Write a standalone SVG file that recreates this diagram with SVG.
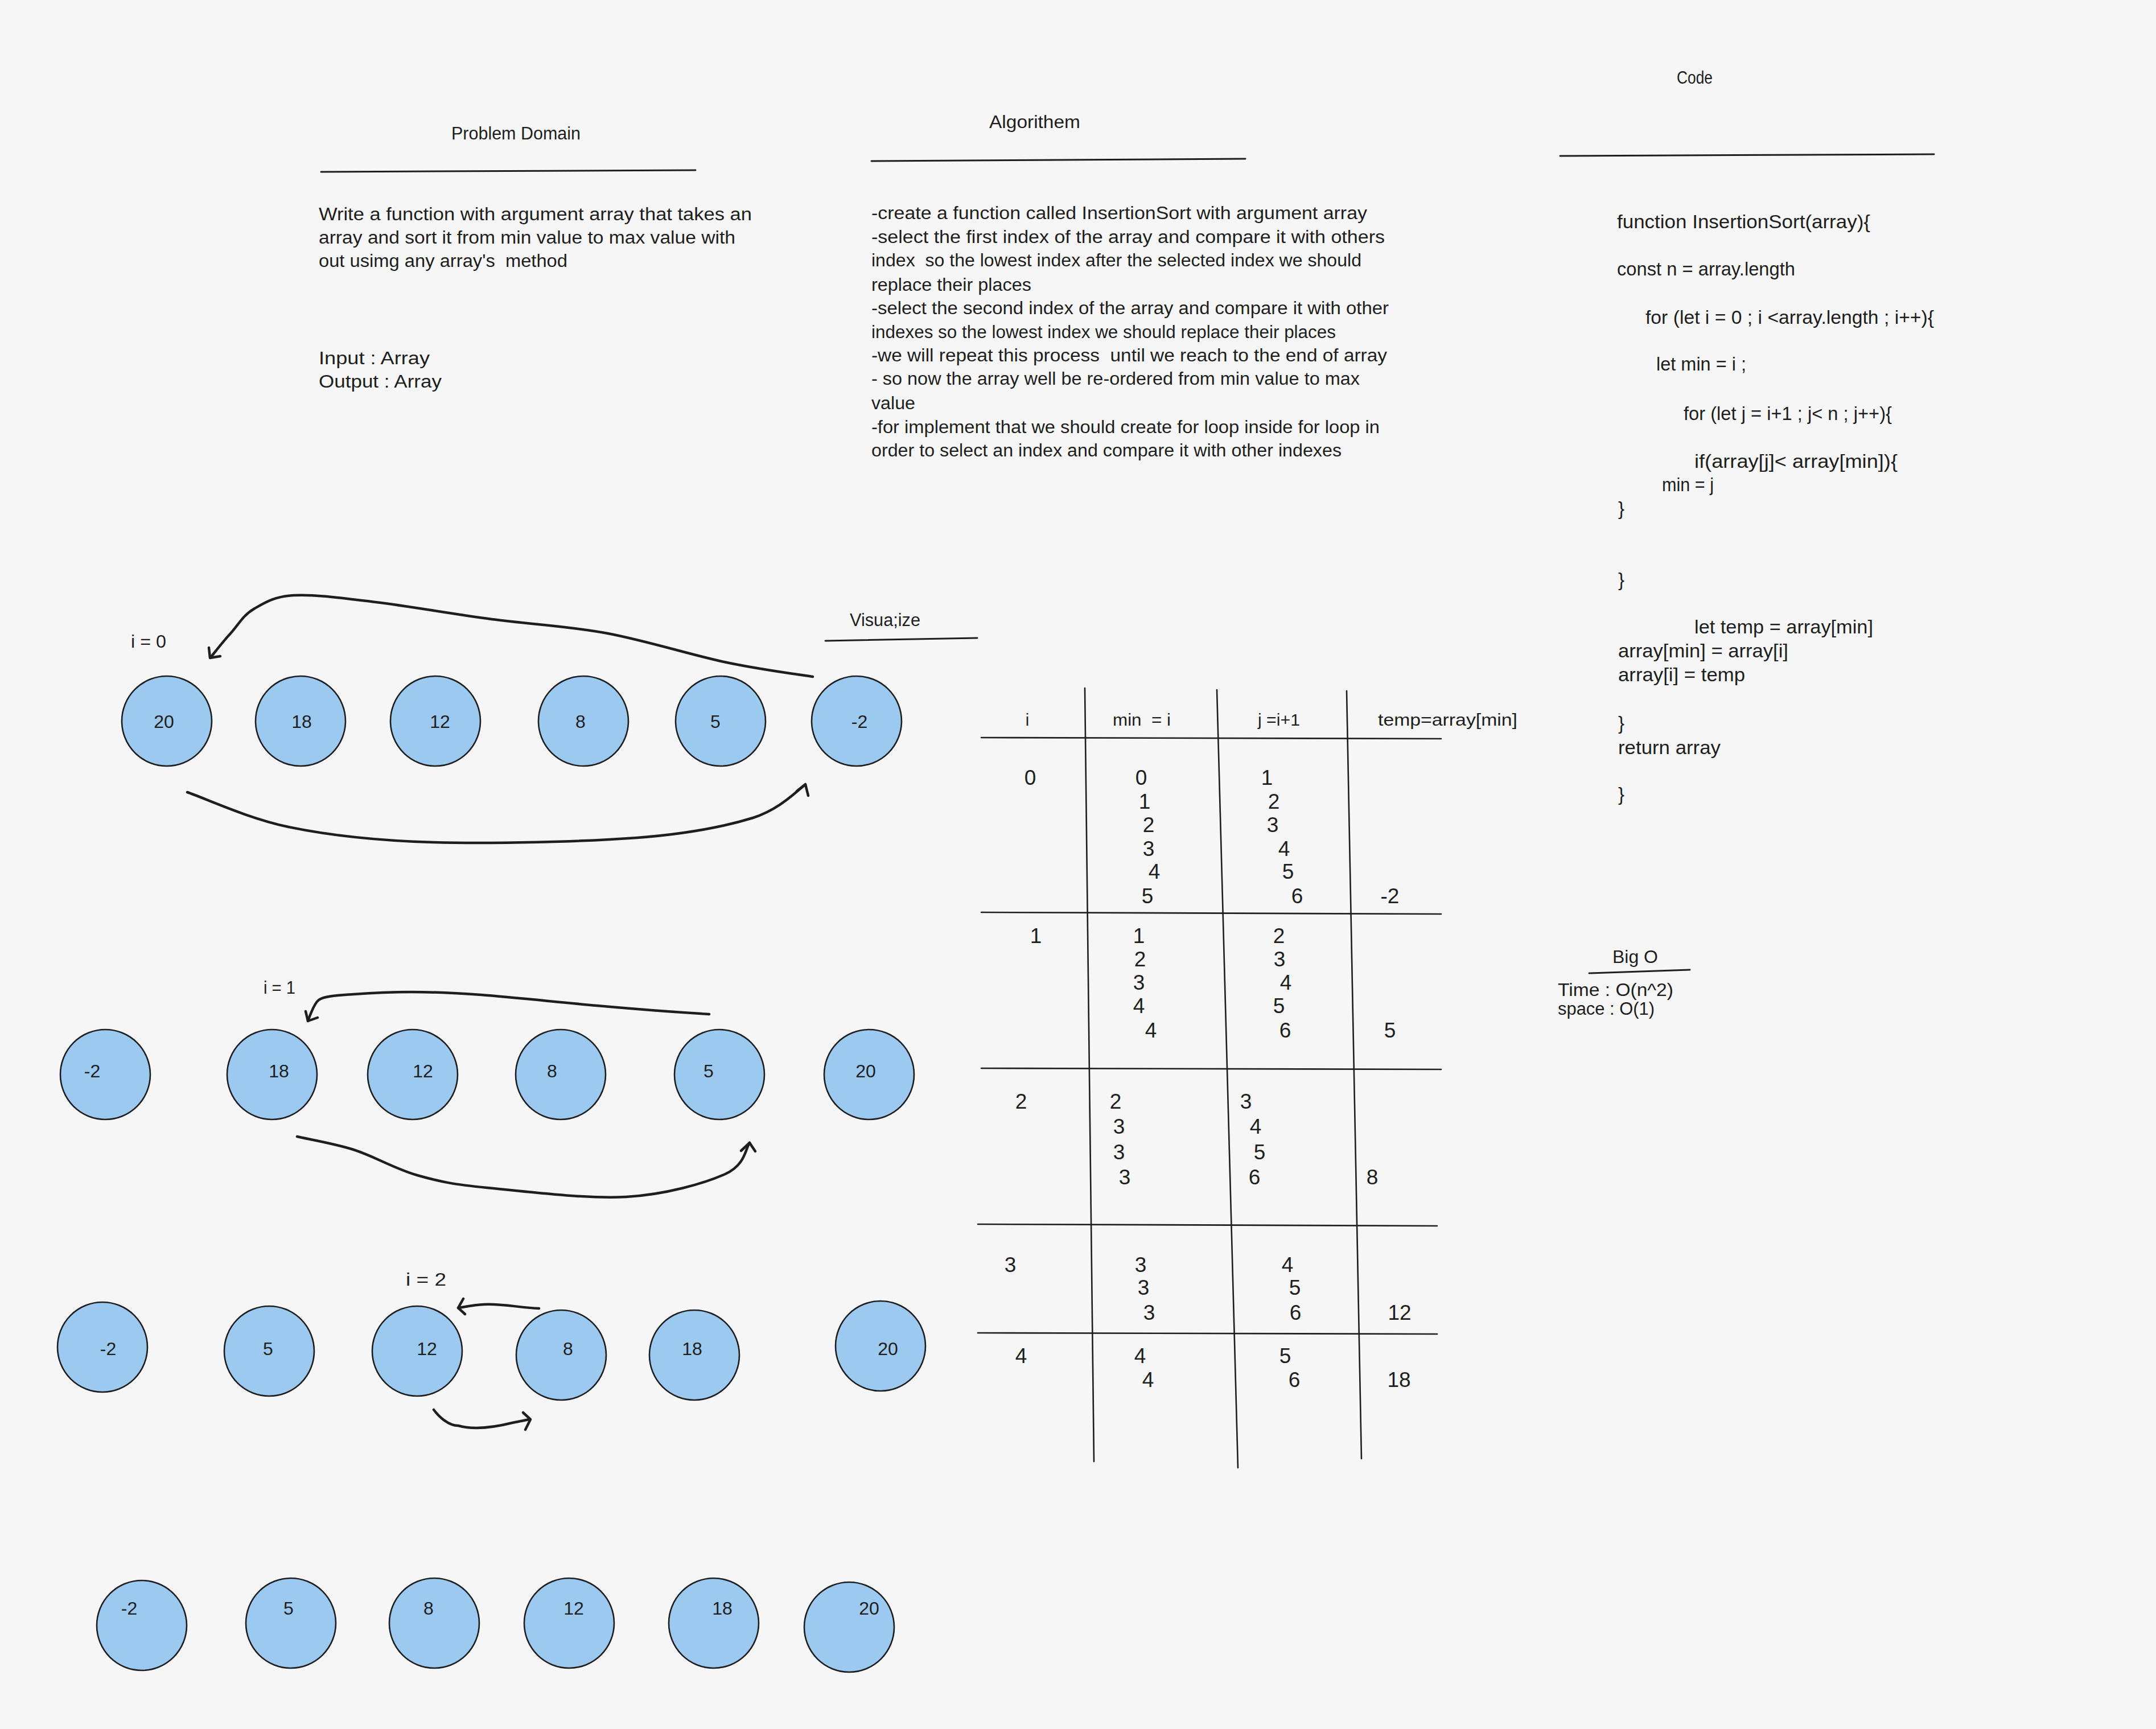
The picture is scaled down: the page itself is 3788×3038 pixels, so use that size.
<svg xmlns="http://www.w3.org/2000/svg" width="3788" height="3038" viewBox="0 0 3788 3038">
<style>
.t{font-family:"Liberation Sans","DejaVu Sans",sans-serif;fill:#1e1e1e;white-space:pre}
.pd{font-size:31px}
.al{font-size:31px}
.cd{font-size:33px}
.hd{font-size:31px}
.tb{font-size:37px;text-anchor:middle;dominant-baseline:central}
.th{font-size:29px}
.nm{font-size:32px;text-anchor:middle;dominant-baseline:central}
.lb{font-size:31px}
.ln{fill:none;stroke:#1e1e1e;stroke-width:3;stroke-linecap:round}
.gl{fill:none;stroke:#1e1e1e;stroke-width:2.6;stroke-linecap:round}
.ar{fill:none;stroke:#1e1e1e;stroke-width:4.5;stroke-linecap:round;stroke-linejoin:round}
.c{fill:#9bc9ef;stroke:#1e1e1e;stroke-width:2.6}
</style>
<rect width="3788" height="3038" fill="#f6f6f6"/>

<g id="problem-domain">
<text class="t hd" x="793" y="245" textLength="227" lengthAdjust="spacingAndGlyphs">Problem Domain</text>
<path class="ln" d="M564,302 L1222,299"/>
<text class="t pd" x="560" y="387" textLength="761" lengthAdjust="spacingAndGlyphs">Write a function with argument array that takes an</text>
<text class="t pd" x="560" y="428" textLength="732" lengthAdjust="spacingAndGlyphs">array and sort it from min value to max value with</text>
<text class="t pd" x="560" y="469" textLength="437" lengthAdjust="spacingAndGlyphs">out usimg any array's  method</text>
<text class="t pd" x="560" y="640" textLength="195" lengthAdjust="spacingAndGlyphs">Input : Array</text>
<text class="t pd" x="560" y="681" textLength="216" lengthAdjust="spacingAndGlyphs">Output : Array</text>
</g>

<g id="algorithm">
<text class="t hd" x="1738" y="225" textLength="160" lengthAdjust="spacingAndGlyphs">Algorithem</text>
<path class="ln" d="M1531,283 L2188,279"/>
<text class="t al" x="1531" y="385" textLength="871" lengthAdjust="spacingAndGlyphs">-create a function called InsertionSort with argument array</text>
<text class="t al" x="1531" y="427" textLength="902" lengthAdjust="spacingAndGlyphs">-select the first index of the array and compare it with others</text>
<text class="t al" x="1531" y="468" textLength="861" lengthAdjust="spacingAndGlyphs">index  so the lowest index after the selected index we should</text>
<text class="t al" x="1531" y="511" textLength="281" lengthAdjust="spacingAndGlyphs">replace their places</text>
<text class="t al" x="1531" y="552" textLength="909" lengthAdjust="spacingAndGlyphs">-select the second index of the array and compare it with other</text>
<text class="t al" x="1531" y="594" textLength="816" lengthAdjust="spacingAndGlyphs">indexes so the lowest index we should replace their places</text>
<text class="t al" x="1531" y="635" textLength="906" lengthAdjust="spacingAndGlyphs">-we will repeat this process  until we reach to the end of array</text>
<text class="t al" x="1531" y="676" textLength="858" lengthAdjust="spacingAndGlyphs">- so now the array well be re-ordered from min value to max</text>
<text class="t al" x="1531" y="719" textLength="77" lengthAdjust="spacingAndGlyphs">value</text>
<text class="t al" x="1531" y="761" textLength="893" lengthAdjust="spacingAndGlyphs">-for implement that we should create for loop inside for loop in</text>
<text class="t al" x="1531" y="802" textLength="826" lengthAdjust="spacingAndGlyphs">order to select an index and compare it with other indexes</text>
</g>

<g id="code">
<text class="t hd" x="2946" y="147" textLength="63" lengthAdjust="spacingAndGlyphs">Code</text>
<path class="ln" d="M2741,274 L3398,271"/>
<text class="t cd" x="2841" y="401" textLength="445" lengthAdjust="spacingAndGlyphs">function InsertionSort(array){</text>
<text class="t cd" x="2841" y="484" textLength="313" lengthAdjust="spacingAndGlyphs">const n = array.length</text>
<text class="t cd" x="2891" y="569" textLength="507" lengthAdjust="spacingAndGlyphs">for (let i = 0 ; i &lt;array.length ; i++){</text>
<text class="t cd" x="2910" y="651" textLength="158" lengthAdjust="spacingAndGlyphs">let min = i ;</text>
<text class="t cd" x="2958" y="738" textLength="366" lengthAdjust="spacingAndGlyphs">for (let j = i+1 ; j&lt; n ; j++){</text>
<text class="t cd" x="2977" y="822" textLength="357" lengthAdjust="spacingAndGlyphs">if(array[j]&lt; array[min]){</text>
<text class="t cd" x="2920" y="863" textLength="91" lengthAdjust="spacingAndGlyphs">min = j</text>
<text class="t cd" x="2843" y="905">}</text>
<text class="t cd" x="2843" y="1030">}</text>
<text class="t cd" x="2977" y="1113" textLength="314" lengthAdjust="spacingAndGlyphs">let temp = array[min]</text>
<text class="t cd" x="2843" y="1155" textLength="299" lengthAdjust="spacingAndGlyphs">array[min] = array[i]</text>
<text class="t cd" x="2843" y="1197" textLength="223" lengthAdjust="spacingAndGlyphs">array[i] = temp</text>
<text class="t cd" x="2843" y="1282">}</text>
<text class="t cd" x="2843" y="1325" textLength="180" lengthAdjust="spacingAndGlyphs">return array</text>
<text class="t cd" x="2843" y="1407">}</text>
</g>

<g id="big-o">
<text class="t hd" x="2833" y="1692" textLength="80" lengthAdjust="spacingAndGlyphs">Big O</text>
<path class="ln" d="M2792,1710 L2969,1704"/>
<text class="t hd" x="2737" y="1750" textLength="203" lengthAdjust="spacingAndGlyphs">Time : O(n^2)</text>
<text class="t hd" x="2737" y="1783" textLength="170" lengthAdjust="spacingAndGlyphs">space : O(1)</text>
</g>

<g id="visualize">
<text class="t hd" x="1493" y="1100" textLength="124" lengthAdjust="spacingAndGlyphs">Visua;ize</text>
<path class="ln" d="M1450,1126 L1717,1121"/>
</g>

<g id="table">
<path class="gl" d="M1724,1296 L2532,1298 M1724,1603 L2532,1606 M1724,1877 L2532,1879 M1718,2151 L2525,2154 M1718,2342 L2525,2344"/>
<path class="gl" d="M1906,1209 L1922,2568 M2138,1212 L2175,2579 M2366,1214 L2392,2563"/>
<text class="t th" x="1805" y="1275" text-anchor="middle">i</text>
<text class="t th" x="1955" y="1275" textLength="102" lengthAdjust="spacingAndGlyphs">min  = i</text>
<text class="t th" x="2210" y="1275" textLength="74" lengthAdjust="spacingAndGlyphs">j =i+1</text>
<text class="t th" x="2421" y="1275" textLength="245" lengthAdjust="spacingAndGlyphs">temp=array[min]</text>
<text class="t tb" x="1810" y="1366">0</text>
<text class="t tb" x="2005" y="1366">0</text>
<text class="t tb" x="2011" y="1408">1</text>
<text class="t tb" x="2018" y="1449">2</text>
<text class="t tb" x="2018" y="1491">3</text>
<text class="t tb" x="2028" y="1531">4</text>
<text class="t tb" x="2016" y="1574">5</text>
<text class="t tb" x="2226" y="1366">1</text>
<text class="t tb" x="2238" y="1408">2</text>
<text class="t tb" x="2236" y="1449">3</text>
<text class="t tb" x="2256" y="1491">4</text>
<text class="t tb" x="2263" y="1531">5</text>
<text class="t tb" x="2279" y="1574">6</text>
<text class="t tb" x="2442" y="1574">-2</text>
<text class="t tb" x="1820" y="1644">1</text>
<text class="t tb" x="2001" y="1644">1</text>
<text class="t tb" x="2003" y="1685">2</text>
<text class="t tb" x="2001" y="1726">3</text>
<text class="t tb" x="2001" y="1767">4</text>
<text class="t tb" x="2022" y="1810">4</text>
<text class="t tb" x="2247" y="1644">2</text>
<text class="t tb" x="2248" y="1685">3</text>
<text class="t tb" x="2259" y="1726">4</text>
<text class="t tb" x="2247" y="1767">5</text>
<text class="t tb" x="2258" y="1810">6</text>
<text class="t tb" x="2442" y="1810">5</text>
<text class="t tb" x="1794" y="1935">2</text>
<text class="t tb" x="1960" y="1935">2</text>
<text class="t tb" x="1966" y="1979">3</text>
<text class="t tb" x="1966" y="2024">3</text>
<text class="t tb" x="1976" y="2068">3</text>
<text class="t tb" x="2189" y="1935">3</text>
<text class="t tb" x="2206" y="1979">4</text>
<text class="t tb" x="2213" y="2024">5</text>
<text class="t tb" x="2204" y="2068">6</text>
<text class="t tb" x="2411" y="2068">8</text>
<text class="t tb" x="1775" y="2222">3</text>
<text class="t tb" x="2004" y="2222">3</text>
<text class="t tb" x="2009" y="2262">3</text>
<text class="t tb" x="2019" y="2306">3</text>
<text class="t tb" x="2262" y="2222">4</text>
<text class="t tb" x="2275" y="2262">5</text>
<text class="t tb" x="2276" y="2306">6</text>
<text class="t tb" x="2459" y="2306">12</text>
<text class="t tb" x="1794" y="2382">4</text>
<text class="t tb" x="2003" y="2382">4</text>
<text class="t tb" x="2017" y="2424">4</text>
<text class="t tb" x="2258" y="2382">5</text>
<text class="t tb" x="2274" y="2424">6</text>
<text class="t tb" x="2458" y="2424">18</text>
</g>

<g id="labels">
<text class="t lb" x="230" y="1138" textLength="62" lengthAdjust="spacingAndGlyphs">i = 0</text>
<text class="t lb" x="463" y="1746" textLength="56" lengthAdjust="spacingAndGlyphs">i = 1</text>
<text class="t lb" x="713" y="2259" textLength="71" lengthAdjust="spacingAndGlyphs">i = 2</text>
</g>

<g id="row1">
<g id="r1n1"><circle class="c" cx="293" cy="1267" r="79"/><text class="t nm" x="288" y="1268">20</text></g>
<g id="r1n2"><circle class="c" cx="528" cy="1267" r="79"/><text class="t nm" x="530" y="1268">18</text></g>
<g id="r1n3"><circle class="c" cx="765" cy="1267" r="79"/><text class="t nm" x="773" y="1268">12</text></g>
<g id="r1n4"><circle class="c" cx="1025" cy="1267" r="79"/><text class="t nm" x="1020" y="1268">8</text></g>
<g id="r1n5"><circle class="c" cx="1266" cy="1267" r="79"/><text class="t nm" x="1257" y="1268">5</text></g>
<g id="r1n6"><circle class="c" cx="1505" cy="1267" r="79"/><text class="t nm" x="1510" y="1268">-2</text></g>
</g>

<g id="row2">
<g id="r2n1"><circle class="c" cx="185" cy="1888" r="79"/><text class="t nm" x="162" y="1882">-2</text></g>
<g id="r2n2"><circle class="c" cx="478" cy="1888" r="79"/><text class="t nm" x="490" y="1882">18</text></g>
<g id="r2n3"><circle class="c" cx="725" cy="1888" r="79"/><text class="t nm" x="743" y="1882">12</text></g>
<g id="r2n4"><circle class="c" cx="985" cy="1888" r="79"/><text class="t nm" x="970" y="1882">8</text></g>
<g id="r2n5"><circle class="c" cx="1264" cy="1888" r="79"/><text class="t nm" x="1245" y="1882">5</text></g>
<g id="r2n6"><circle class="c" cx="1527" cy="1888" r="79"/><text class="t nm" x="1521" y="1882">20</text></g>
</g>

<g id="row3">
<g id="r3n1"><circle class="c" cx="180" cy="2367" r="79"/><text class="t nm" x="190" y="2370">-2</text></g>
<g id="r3n2"><circle class="c" cx="473" cy="2374" r="79"/><text class="t nm" x="471" y="2370">5</text></g>
<g id="r3n3"><circle class="c" cx="733" cy="2374" r="79"/><text class="t nm" x="750" y="2370">12</text></g>
<g id="r3n4"><circle class="c" cx="986" cy="2381" r="79"/><text class="t nm" x="998" y="2370">8</text></g>
<g id="r3n5"><circle class="c" cx="1220" cy="2381" r="79"/><text class="t nm" x="1216" y="2370">18</text></g>
<g id="r3n6"><circle class="c" cx="1547" cy="2365" r="79"/><text class="t nm" x="1560" y="2370">20</text></g>
</g>

<g id="row4">
<g id="r4n1"><circle class="c" cx="249" cy="2856" r="79"/><text class="t nm" x="227" y="2826">-2</text></g>
<g id="r4n2"><circle class="c" cx="511" cy="2852" r="79"/><text class="t nm" x="507" y="2826">5</text></g>
<g id="r4n3"><circle class="c" cx="763" cy="2852" r="79"/><text class="t nm" x="753" y="2826">8</text></g>
<g id="r4n4"><circle class="c" cx="1000" cy="2852" r="79"/><text class="t nm" x="1008" y="2826">12</text></g>
<g id="r4n5"><circle class="c" cx="1254" cy="2852" r="79"/><text class="t nm" x="1269" y="2826">18</text></g>
<g id="r4n6"><circle class="c" cx="1492" cy="2859" r="79"/><text class="t nm" x="1527" y="2826">20</text></g>
</g>

<g id="connectors">
<path class="ar" d="M1428,1189 C1402,1185 1332,1176 1272,1163 C1212,1150 1136,1126 1068,1113 C1000,1100 932,1097 864,1088 C796,1079 718,1065 660,1058 C602,1051 553,1044 517,1046 C481,1048 465,1059 446,1070 C427,1081 418,1099 405,1113 C392,1127 376,1148 370,1155"/>
<path class="ar" d="M367,1138 L369,1156 L387,1153"/>
<path class="ar" d="M329,1392 C359,1402 435,1438 507,1453 C579,1468 660,1477 762,1480 C864,1483 1025,1479 1119,1472 C1212,1465 1274,1452 1323,1437 C1372,1421 1400,1389 1415,1379"/>
<path class="ar" d="M1400,1390 L1415,1378 L1420,1398"/>
<path class="ar" d="M1246,1782 C1213,1780 1116,1773 1049,1767 C982,1761 899,1752 845,1748 C791,1744 760,1743 723,1743 C686,1743 648,1745 621,1747 C594,1749 570,1750 560,1757 Q552,1763 541,1794"/>
<path class="ar" d="M537,1777 L541,1794 L558,1788"/>
<path class="ar" d="M522,1997 C538,2001 586,2009 621,2020 C656,2031 694,2054 733,2065 C772,2076 795,2081 856,2087 C917,2093 1030,2107 1100,2103 C1170,2099 1238,2079 1274,2063 C1310,2047 1310,2017 1317,2008"/>
<path class="ar" d="M1302,2022 L1317,2008 L1327,2023"/>
<path class="ar" d="M947,2299 C915,2298 880,2290 850,2292 C830,2293 815,2297 805,2298"/>
<path class="ar" d="M814,2282 L805,2298 L817,2309"/>
<path class="ar" d="M762,2477 C772,2490 788,2505 805,2505 C830,2512 860,2510 900,2500 L930,2494"/>
<path class="ar" d="M919,2482 L932,2494 L923,2512"/>
</g>
</svg>
